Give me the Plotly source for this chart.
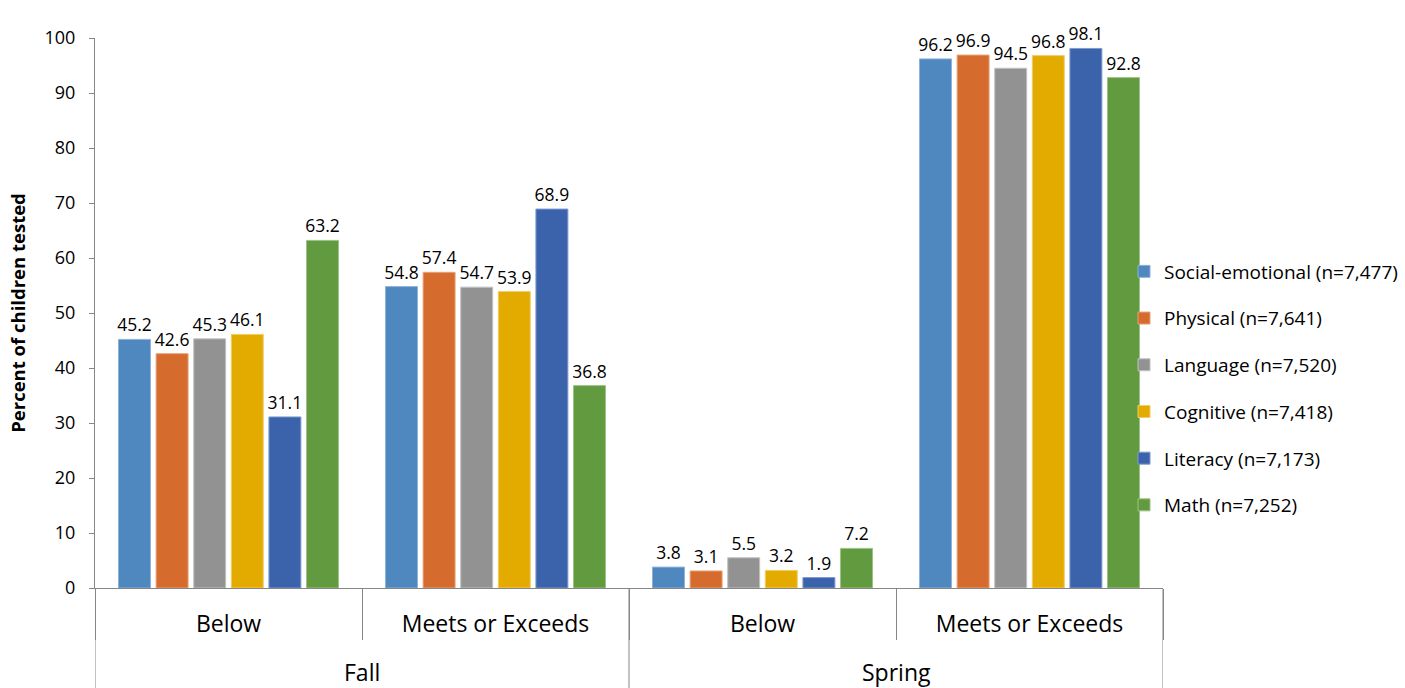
import plotly.graph_objects as go

# Assessment results by domain, fall vs. spring
seasons = ["Fall", "Fall", "Spring", "Spring"]
levels = ["Below", "Meets or Exceeds", "Below", "Meets or Exceeds"]

domains = [
    "Social-emotional (n=7,477)",
    "Physical (n=7,641)",
    "Language (n=7,520)",
    "Cognitive (n=7,418)",
    "Literacy (n=7,173)",
    "Math (n=7,252)",
]

social_emotional = [45.2, 54.8, 3.8, 96.2]
physical = [42.6, 57.4, 3.1, 96.9]
language = [45.3, 54.7, 5.5, 94.5]
cognitive = [46.1, 53.9, 3.2, 96.8]
literacy = [31.1, 68.9, 1.9, 98.1]
math = [63.2, 36.8, 7.2, 92.8]

series = [social_emotional, physical, language, cognitive, literacy, math]

y_ticks = [0, 10, 20, 30, 40, 50, 60, 70, 80, 90, 100]

colors = ["#4F88BE", "#D56B2C", "#929292", "#E3AA00", "#3B63AC", "#629B3F"]
edges = ["#8DB2D8", "#E8A27A", "#C2C2C2", "#F0CD66", "#7E9BCF", "#9CC384"]

FONT = "Open Sans, Liberation Sans, sans-serif"
AXIS_GRAY = "#868686"

positions = list(range(len(levels)))

fig = go.Figure()
for name, vals, col, edge in zip(domains, series, colors, edges):
    fig.add_trace(
        go.Bar(
            x=positions,
            y=vals,
            name=name,
            legendgroup=name,
            marker=dict(color=col, line=dict(color=edge, width=1)),
            text=[f"{v:.1f}" for v in vals],
            textposition="outside",
            textfont=dict(family=FONT, size=17.5, color="#000000"),
            constraintext="none",
            cliponaxis=False,
            hoverinfo="skip",
        )
    )

# Outer (season) dividers that run through both label rows
season_edges = [-0.5, 1.5, 3.5]
for xe in season_edges:
    fig.add_shape(
        type="line", xref="x", yref="paper",
        x0=xe, x1=xe, y0=0, y1=-0.2,
        line=dict(color=AXIS_GRAY, width=1),
    )

# Season labels centred under each pair of categories
season_names = []
for s in seasons:
    if s not in season_names:
        season_names.append(s)
for s in season_names:
    idx = [j for j, v in enumerate(seasons) if v == s]
    fig.add_annotation(
        x=sum(idx) / len(idx), xref="x",
        y=0, yref="paper", yshift=-84,
        text=s, showarrow=False,
        yanchor="middle", xanchor="center",
        font=dict(family=FONT, size=23, color="#000000"),
    )

fig.update_layout(
    width=1405,
    height=688,
    margin=dict(l=95, r=242, t=38, b=100, autoexpand=False),
    paper_bgcolor="white",
    plot_bgcolor="white",
    barmode="group",
    bargap=0.155,
    bargroupgap=0.15,
    font=dict(family=FONT, color="#000000"),
    showlegend=True,
    legend=dict(
        x=0.9635, xanchor="left",
        y=0.3627, yanchor="middle",
        font=dict(family=FONT, size=19, color="#000000"),
        tracegroupgap=19,
        bgcolor="rgba(0,0,0,0)",
        borderwidth=0,
    ),
    xaxis=dict(
        range=[-0.5, 3.5],
        tickmode="array",
        tickvals=positions,
        ticktext=levels,
        ticks="",
        tickfont=dict(family=FONT, size=23, color="#000000"),
        ticklabelstandoff=15,
        showline=True,
        linecolor=AXIS_GRAY,
        linewidth=1,
        showgrid=False,
        zeroline=False,
        minor=dict(
            tickmode="linear", tick0=-0.5, dtick=1,
            ticks="outside", ticklen=51, tickcolor=AXIS_GRAY, tickwidth=1,
            showgrid=False,
        ),
        fixedrange=True,
    ),
    yaxis=dict(
        range=[0, 100],
        tickmode="array",
        tickvals=y_ticks,
        ticks="outside",
        ticklen=5,
        tickcolor=AXIS_GRAY,
        tickfont=dict(family=FONT, size=18, color="#000000"),
        ticklabelstandoff=10,
        showline=True,
        linecolor=AXIS_GRAY,
        linewidth=1,
        showgrid=False,
        zeroline=False,
        title=dict(
            text="<b>Percent of children tested</b>",
            font=dict(family=FONT, size=18.5, color="#000000"),
            standoff=14,
        ),
        fixedrange=True,
    ),
)

fig.write_html("out.html")
